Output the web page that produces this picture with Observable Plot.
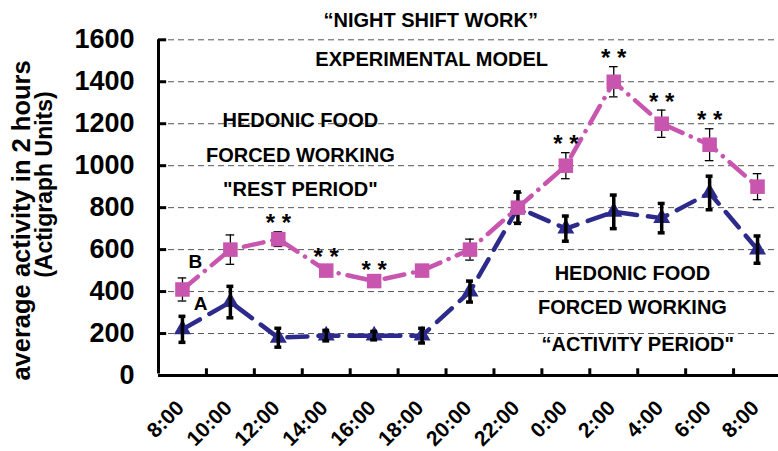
<!DOCTYPE html>
<html><head><meta charset="utf-8">
<script src="https://cdn.jsdelivr.net/npm/d3@7"></script>
<script src="https://cdn.jsdelivr.net/npm/@observablehq/plot@0.6"></script>
<style>body{margin:0;background:#fff}#chart{width:778px;height:451px;overflow:hidden}</style>
</head><body><div id="chart"></div>
<script>
// ---- data ----
const times = ["8:00","10:00","12:00","14:00","16:00","18:00","20:00","22:00","0:00","2:00","4:00","6:00","8:00"];
const groupB = [410, 600, 650, 500, 450, 500, 600, 800, 1000, 1400, 1200, 1100, 900];   // B
const errB   = [55, 70, 35, 25, 15, 20, 50, 70, 62, 72, 65, 76, 62];
const groupA = [220, 350, 180, 190, 190, 190, 400, 800, 700, 780, 750, 870, 600];      // A
const errA   = [62, 75, 45, 25, 20, 35, 50, 75, 60, 80, 70, 80, 65];
const yTicks = [0, 200, 400, 600, 800, 1000, 1200, 1400, 1600];
const starIdx = [2, 3, 4, 8, 9, 10, 11];

const data = times.map((t, i) => ({i, t, a: groupA[i], ea: errA[i], b: groupB[i], eb: errB[i]}));

const FONT = '"Liberation Sans", Arial, Helvetica, sans-serif';
const PINK = "#c855ae";
const BLUE = "#2c2a8a";
const capW = 0.09;
const ANN = 20;

const chart = Plot.plot({
  width: 778, height: 451,
  marginLeft: 158, marginRight: 0, marginTop: 39, marginBottom: 76,
  style: {fontFamily: FONT, fontWeight: "bold", background: "#fff", overflow: "visible", color: "#000"},
  x: {domain: [-0.5, 12.5], range: [158, 781], axis: null},
  y: {domain: [0, 1600], range: [375, 39.3], axis: null},
  marks: [
    // grid
    Plot.ruleY(yTicks.filter(d => d > 0), {x1: -0.5, x2: 12.5, stroke: "#555", strokeWidth: 1, strokeDasharray: "6,4"}),
    // axes
    Plot.ruleY([0], {x1: -0.5, x2: 12.5, stroke: "#000", strokeWidth: 3.2}),
    Plot.ruleX([-0.5], {y1: 0, y2: 1600, stroke: "#000", strokeWidth: 3, insetTop: -1.5}),
    Plot.ruleY(yTicks.filter(d => d > 0), {x1: -0.5, x2: -0.33, stroke: "#000", strokeWidth: 3}),
    Plot.ruleX(d3.range(0.5, 12, 1), {y1: 0, y2: 32, stroke: "#000", strokeWidth: 3}),
    Plot.text(yTicks, {x: -0.5, y: d => d, text: d => String(d), textAnchor: "end", dx: -24, fontSize: 27, fontWeight: "bold"}),
    Plot.text(data, {x: "i", y: 0, text: "t", rotate: -45, textAnchor: "end", dx: -2, dy: 29, fontSize: 21, fontWeight: "bold"}),
    // series A (blue)
    Plot.line(data, {x: "i", y: "a", stroke: BLUE, strokeWidth: 4.5, strokeDasharray: "20,11"}),
    Plot.dot(data, {x: "i", y: "a", symbol: "triangle", r: 6.3, fill: BLUE, stroke: "none"}),
    Plot.ruleX(data, {x: "i", y1: d => d.a - d.ea, y2: d => d.a + d.ea, stroke: "#000", strokeWidth: 3.5}),
    Plot.ruleY(data, {y: d => d.a + d.ea, x1: d => d.i - capW * 0.8, x2: d => d.i + capW * 0.8, stroke: "#000", strokeWidth: 3.5}),
    Plot.ruleY(data, {y: d => d.a - d.ea, x1: d => d.i - capW * 0.8, x2: d => d.i + capW * 0.8, stroke: "#000", strokeWidth: 3.5}),
    // series B (pink)
    Plot.line(data, {x: "i", y: "b", stroke: PINK, strokeWidth: 4.5, strokeDasharray: "20,9,0.1,9", strokeLinecap: "round"}),
    Plot.ruleX(data, {x: "i", y1: d => d.b - d.eb, y2: d => d.b + d.eb, stroke: "#000", strokeWidth: 1.3}),
    Plot.ruleY(data, {y: d => d.b + d.eb, x1: d => d.i - capW, x2: d => d.i + capW, stroke: "#000", strokeWidth: 1.3}),
    Plot.ruleY(data, {y: d => d.b - d.eb, x1: d => d.i - capW, x2: d => d.i + capW, stroke: "#000", strokeWidth: 1.3}),
    Plot.dot(data, {x: "i", y: "b", symbol: "square", r: 8.2, fill: PINK, stroke: "none"}),
    // significance stars
    Plot.text(data.filter(d => starIdx.includes(d.i)), {x: "i", y: d => d.b + d.eb, text: () => "* *", dy: -8, fontSize: 24, fontWeight: "bold"}),
    // series labels
    Plot.text(["B"], {x: 0.27, y: 543, text: d => d, fontSize: 19, fontWeight: "bold"}),
    Plot.text(["A"], {x: 0.38, y: 343, text: d => d, fontSize: 19, fontWeight: "bold"}),
    // annotations
    Plot.text(["\u201CNIGHT SHIFT WORK\u201D"], {x: 5.18, y: 1692, text: d => d, fontSize: ANN, fontWeight: "bold"}),
    Plot.text(["EXPERIMENTAL MODEL"], {x: 5.2, y: 1505, text: d => d, fontSize: ANN, fontWeight: "bold"}),
    Plot.text(["HEDONIC FOOD"], {x: 2.46, y: 1217, text: d => d, fontSize: ANN, fontWeight: "bold"}),
    Plot.text(["FORCED WORKING"], {x: 2.46, y: 1050, text: d => d, fontSize: ANN, fontWeight: "bold"}),
    Plot.text(["\"REST PERIOD\""], {x: 2.46, y: 884, text: d => d, fontSize: ANN, fontWeight: "bold"}),
    Plot.text(["HEDONIC FOOD"], {x: 9.39, y: 488, text: d => d, fontSize: ANN, fontWeight: "bold"}),
    Plot.text(["FORCED WORKING"], {x: 9.39, y: 322, text: d => d, fontSize: ANN, fontWeight: "bold"}),
    Plot.text(["\u201CACTIVITY PERIOD\""], {x: 9.5, y: 145, text: d => d, fontSize: ANN, fontWeight: "bold"}),
    // y axis title (two lines)
    Plot.text(["average activity in 2 hours"], {x: -0.5, y: 739, text: d => d, rotate: -90, dx: -137, fontSize: 25.5, fontWeight: "bold"}),
    Plot.text(["(Actigraph Units)"], {x: -0.5, y: 910, text: d => d, rotate: -90, dx: -114, fontSize: 23, fontWeight: "bold"})
  ]
});
document.getElementById("chart").appendChild(chart);
</script>
</body></html>
